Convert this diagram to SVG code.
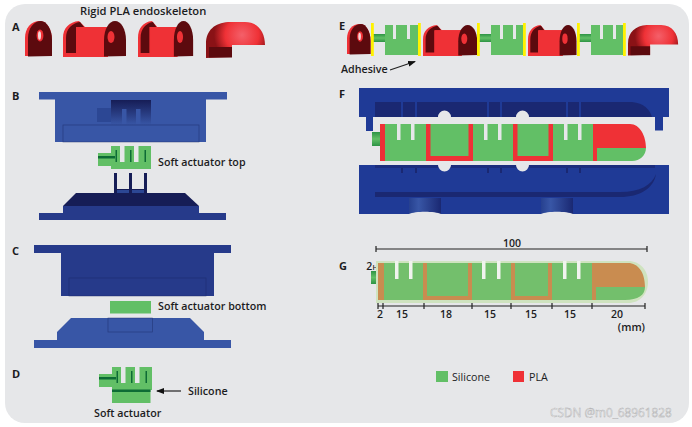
<svg xmlns="http://www.w3.org/2000/svg" width="692" height="427" viewBox="0 0 692 427">
<style>
.t{font-family:"Open Sans","Liberation Sans",sans-serif;font-weight:600;font-size:10.700px;fill:#1c1c1e}
.p{font-weight:700;font-size:11px}
.n{font-weight:600;font-size:10.500px;text-anchor:middle}
.r{fill:#ef3136}.d{fill:#5c0a0e}.g{fill:#62bf66}.y{fill:#fff200}
.b{fill:#3856a6}.k{fill:#263a8a}.f{fill:#1f3a96}.c{fill:#1a2872}.v{fill:#161d56}.o{fill:#c98c50}.w{fill:#e6e7e9}
.e{fill:none;stroke:#1b2a66;stroke-width:.7;opacity:.6}
.l{fill:none;stroke:#222;stroke-width:1.2}
</style>
<defs>
<linearGradient id="fade" x1="0" y1="0" x2="0" y2="1"><stop offset="0" stop-color="#161d56"/><stop offset="1" stop-color="#3856a6"/></linearGradient>
<linearGradient id="tube" x1="0" y1="0" x2="0" y2="1"><stop offset="0" stop-color="#2d9445"/><stop offset=".5" stop-color="#62bf66"/><stop offset="1" stop-color="#2d9445"/></linearGradient>
<linearGradient id="cyl" x1="0" y1="0" x2="1" y2="0"><stop offset="0" stop-color="#26408f"/><stop offset=".3" stop-color="#3856a6"/><stop offset="1" stop-color="#1a2872"/></linearGradient>
<radialGradient id="tipg" gradientUnits="userSpaceOnUse" cx="36" cy="13" r="28"><stop offset="0" stop-color="#f4606a"/><stop offset=".6" stop-color="#ef3136"/><stop offset="1" stop-color="#8a1216"/></radialGradient>
<marker id="ah" markerWidth="8" markerHeight="8" refX="7" refY="3" orient="auto" markerUnits="userSpaceOnUse" viewBox="0 0 8 6"><path d="M0 0L8 3L0 6z" fill="#111"/></marker>
<g id="end">
<path class="r" d="M0 35V17C0 7 6 0 15 0C22 0 27 9 27 19V35Z"/>
<path class="d" d="M3 35.500V17C3 7 9 0 16 0C22 0 27 9 27 19V35Z"/>
<ellipse class="r" cx="15" cy="14.500" rx="3.400" ry="6"/><ellipse cx="14.500" cy="14.500" rx="1.500" ry="4.200" fill="#f6d8d8"/>
</g>
<g id="mid">
<path class="r" d="M0 36V17C0 7 6 1 16 0L22 6H45V36Z"/>
<path class="d" d="M3 32V17C3 8 9 2 17 1L21 6H13V32Z"/>
<rect class="r" x="14" y="6" width="31" height="30"/>
<path class="d" d="M41 35.500V19C41 8 46 0 52 0C58 0 63 8 63 19V35Z"/>
<ellipse class="r" cx="48" cy="16" rx="3.500" ry="6"/>
</g>
<g id="tip">
<path d="M0 36V22C0 8 9 1 22 0H39C52 0 59 10 59 23H26V35Z" fill="url(#tipg)"/>
<rect class="d" x="3" y="25" width="23" height="10.500"/>
</g>
<g id="comb">
<rect class="g" x="0" y="0" width="40" height="23"/>
<rect class="w" x="9" y="0" width="4.500" height="16"/><rect class="w" x="23" y="0" width="4.500" height="16"/>
<rect x="4.500" y="4" width="1.500" height="12" fill="#0d6b35"/><rect x="19" y="4" width="1.500" height="12" fill="#0d6b35"/><rect x="33.500" y="4" width="1.500" height="12" fill="#0d6b35"/>
<rect class="g" x="-13" y="7" width="17" height="13"/>
<rect x="-13" y="10" width="17" height="2.500" fill="#0d6b35"/>
</g>
<g id="seg">
<rect class="g" x="13" y="0" width="34" height="30"/>
<rect x="0" y="9" width="13" height="8" fill="url(#tube)"/>
</g>
</defs>

<rect x="5" y="4" width="684" height="419" rx="20" class="w"/>

<g id="panel-a">
<text class="t p" x="12" y="31">A</text>
<text class="t" x="80" y="15" style="font-size:11.200px">Rigid PLA endoskeleton</text>
<use href="#end" x="25" y="21"/>
<use href="#mid" x="63" y="21"/>
<use href="#mid" transform="translate(138 21) scale(.875 1)"/>
<use href="#tip" x="206" y="22"/>
</g>

<g id="panel-b">
<text class="t p" x="12" y="100">B</text>
<g id="b-top-mould">
<rect class="b" x="39" y="92" width="188" height="7.500"/>
<rect class="b" x="55" y="99" width="151" height="43"/>
<path d="M111 100H151V125H111Z" fill="url(#fade)"/>
<rect class="b" x="122" y="109" width="4.500" height="16"/><rect class="b" x="136" y="109" width="4.500" height="16"/>
<rect x="97" y="108" width="14" height="14" fill="#2c4794"/>
<rect class="e" x="63" y="125" width="136" height="17"/>
</g>
<g id="b-actuator"><use href="#comb" x="111" y="146"/></g>
<text class="t" x="158" y="166">Soft actuator top</text>
<g id="b-bottom-mould">
<rect class="v" x="114" y="173" width="3" height="19"/><rect class="v" x="129" y="173" width="3" height="19"/><rect class="v" x="144" y="173" width="3" height="19"/>
<rect class="v" x="114" y="189" width="33" height="4"/>
<rect x="117" y="190" width="12" height="3" fill="#2c4794"/><rect x="132" y="190" width="12" height="3" fill="#2c4794"/>
<path class="v" d="M63 206L76 193H185L199 206Z"/>
<rect class="k" x="63" y="206" width="136" height="8"/>
<rect class="k" x="39" y="213" width="187" height="7"/>
</g>
</g>

<g id="panel-c">
<text class="t p" x="12" y="255">C</text>
<g id="c-top-mould">
<rect class="k" x="34" y="245" width="197" height="8"/>
<rect class="k" x="61" y="252" width="153" height="44"/>
<rect class="e" x="69" y="278" width="137" height="18"/>
</g>
<rect id="c-actuator" class="g" x="110" y="301" width="41" height="12.500"/>
<text class="t" x="158" y="310">Soft actuator bottom</text>
<g id="c-bottom-mould">
<path class="b" d="M57 341V332L71 318H190L204 332V341Z"/>
<rect class="b" x="34" y="340" width="197" height="8"/>
<rect class="e" x="108" y="318" width="44.500" height="14"/>
</g>
</g>

<g id="panel-d">
<text class="t p" x="12" y="378">D</text>
<g id="d-actuator">
<use href="#comb" x="112" y="367"/>
<rect class="g" x="112" y="388" width="38.500" height="15"/>
<rect x="112" y="389.500" width="38.500" height="2.500" fill="#0d6b35"/>
</g>
<line class="l" x1="181" y1="391" x2="157" y2="391" marker-end="url(#ah)"/>
<text class="t" x="188" y="394.500">Silicone</text>
<text class="t" x="94" y="417">Soft actuator</text>
</g>

<g id="panel-e">
<text class="t p" x="339" y="30">E</text>
<use href="#end" transform="translate(347 24) scale(.87 .86)"/>
<use href="#seg" x="372" y="25"/>
<use href="#mid" transform="translate(423 25) scale(.86 .86)"/>
<use href="#seg" x="478" y="25"/>
<use href="#mid" transform="translate(528 25) scale(.77 .86)"/>
<use href="#seg" x="578" y="25"/>
<use href="#tip" transform="translate(628 25) scale(.85 .85)"/>
<rect class="w" x="393" y="25" width="3" height="14"/><rect class="w" x="407" y="25" width="3" height="14"/>
<rect class="w" x="500" y="25" width="3" height="14"/><rect class="w" x="513" y="25" width="3" height="14"/>
<rect class="w" x="600" y="25" width="3" height="14"/><rect class="w" x="613" y="25" width="3" height="14"/>
<rect class="y" x="371" y="23" width="2.800" height="33"/><rect class="y" x="418" y="23" width="2.800" height="33"/>
<rect class="y" x="477" y="23" width="2.800" height="33"/><rect class="y" x="523" y="23" width="2.800" height="33"/>
<rect class="y" x="577" y="23" width="2.800" height="33"/><rect class="y" x="623" y="23" width="2.800" height="33"/>
<text class="t" x="341" y="73">Adhesive</text>
<line class="l" x1="390" y1="70" x2="415" y2="61.500" marker-end="url(#ah)"/>
</g>

<g id="panel-f">
<text class="t p" x="339" y="98">F</text>
<g id="f-top-mould">
<rect class="f" x="359" y="88" width="310" height="29"/>
<path class="c" d="M375 117V102H632C644 103 650 110 652 117Z"/>
<path class="f" d="M401 102h2v15h-2zM415 102h2v15h-2zM487 102h2v15h-2zM500 102h2v15h-2zM566 102h2v15h-2zM579 102h2v15h-2z"/>
<rect class="f" x="366" y="117" width="7" height="14"/><rect class="f" x="655" y="117" width="8" height="13.500"/>
<path class="w" d="M438 117a6.500 6.500 0 0 1 13 0ZM516 117a6.500 6.500 0 0 1 13 0Z"/>
</g>
<g id="f-actuator">
<rect x="372" y="132" width="9" height="14" fill="url(#tube)"/>
<rect class="g" x="380" y="124" width="214" height="37"/>
<path class="r" d="M593 124H630C640 124 646 136 646 148H597V161H593Z"/>
<path class="g" d="M597 148H646C646 155 640 161 632 161H597Z"/>
<rect class="r" x="380" y="124" width="5" height="37"/>
<path class="r" d="M426 124h4.500v32h38V124h4.500v37h-47ZM513 124h4.500v32h31V124h4.500v37h-40Z"/>
<path class="w" d="M397 124h3.500v16h-3.500zM411 124h3.500v16h-3.500zM484 124h3.500v16h-3.500zM498 124h3.500v16h-3.500zM564 124h3.500v16h-3.500zM578 124h3.500v16h-3.500z"/>
</g>
<g id="f-bottom-mould">
<rect class="f" x="359" y="165" width="310" height="49"/>
<path class="c" d="M375 165H655V168H375Z" opacity=".7"/>
<path class="c" d="M375 192H620C640 192 652 185 656 174C654 188 640 197 620 197H375Z"/>
<rect x="409" y="198" width="32" height="16" fill="url(#cyl)"/><rect x="541" y="198" width="32" height="16" fill="url(#cyl)"/>
<path class="w" d="M409 214C415 211 435 211 441 214ZM541 214C547 211 567 211 573 214Z"/>
<path class="c" d="M401 168h2v5h-2zM415 168h2v5h-2zM487 168h2v5h-2zM500 168h2v5h-2zM566 168h2v5h-2zM579 168h2v5h-2z"/>
<path class="w" d="M438 165a6.500 6.500 0 0 0 13 0ZM516 165a6.500 6.500 0 0 0 13 0Z"/>
</g>
</g>

<g id="panel-g">
<text class="t p" x="339" y="270">G</text>
<g id="g-dimensions">
<path class="l" d="M376 249H647M376 246V252M647 246V252"/>
<path class="l" d="M378 306H645M378 303V309M383 303V309M424 303V309M472 303V309M511 303V309M552 303V309M592 303V309M645 303V309"/>
<text class="t n" x="512" y="247">100</text>
<text class="t n" x="372" y="270">2<tspan font-size="7">H</tspan></text>
<text class="t n" x="380" y="318">2</text><text class="t n" x="402" y="318">15</text><text class="t n" x="446" y="318">18</text>
<text class="t n" x="490" y="318">15</text><text class="t n" x="531" y="318">15</text><text class="t n" x="570" y="318">15</text><text class="t n" x="617" y="318">20</text>
<text class="t" x="645" y="331" text-anchor="end">(mm)</text>
</g>
<g id="g-actuator">
<rect x="371" y="271" width="7" height="13" fill="url(#tube)"/>
<path d="M376 261H628C640 261 648 270 648 282C648 294 640 303 628 303H376Z" fill="#cfe3bf"/>
<rect x="378" y="263" width="216" height="37" fill="#73bf6c"/>
<path class="o" d="M592 263H628C638 263 645 272 645 287H596V300H592Z"/>
<path d="M596 287H645C645 295 638 300 625 300H596Z" fill="#73bf6c"/>
<rect class="o" x="378" y="263" width="6" height="37"/>
<path class="o" d="M423 263h4v33h41V263h4v37h-49ZM511 263h4v33h33V263h4v37h-41Z"/>
<path fill="#f1f3ee" d="M395 261h3.500v18h-3.500zM409 261h3.500v18h-3.500zM482 261h3.500v18h-3.500zM497 261h3.500v18h-3.500zM563 261h3.500v18h-3.500zM577 261h3.500v18h-3.500z"/>
</g>
</g>

<g id="legend">
<rect class="g" x="436" y="371" width="12" height="11"/>
<text class="t" x="452" y="381" style="font-weight:400">Silicone</text>
<rect class="r" x="513" y="371" width="11" height="11"/>
<text class="t" x="529" y="381" style="font-weight:400">PLA</text>
</g>

<text id="watermark" x="550" y="417" font-family="'Open Sans','Liberation Sans',sans-serif" font-size="11.800" fill="#f2f2f2" stroke="#a9a9ab" stroke-width=".4">CSDN @m0_68961828</text>
</svg>
